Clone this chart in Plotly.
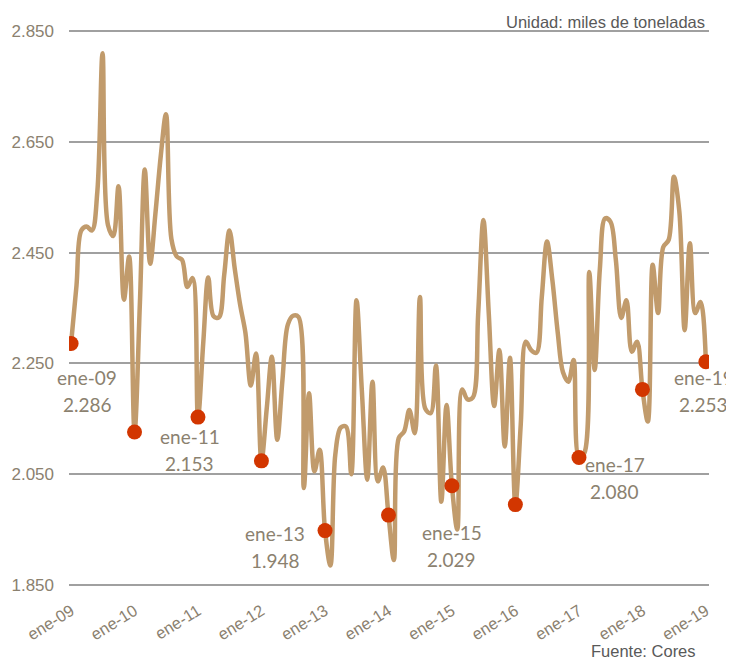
import plotly.graph_objects as go
import pandas as pd

# Monthly values (thousand tonnes), Jan 2009 .. Jan 2019
v2009 = [2286, 2390, 2490, 2497, 2490, 2560, 2810, 2500, 2480, 2570, 2365, 2443]
v2010 = [2126, 2360, 2600, 2430, 2520, 2625, 2700, 2475, 2443, 2437, 2388, 2404]
v2011 = [2153, 2290, 2405, 2335, 2333, 2410, 2490, 2420, 2355, 2305, 2210, 2268]
v2012 = [2074, 2170, 2262, 2112, 2220, 2320, 2336, 2334, 2025, 2196, 2055, 2094]
v2013 = [1948, 1885, 2085, 2134, 2136, 2050, 2364, 2200, 2040, 2217, 2037, 2062]
v2014 = [1976, 1895, 2115, 2127, 2166, 2124, 2370, 2168, 2160, 2246, 2000, 2175]
v2015 = [2029, 1950, 2203, 2185, 2188, 2340, 2509, 2340, 2173, 2274, 2100, 2260]
v2016 = [1995, 2140, 2289, 2274, 2269, 2370, 2470, 2400, 2305, 2234, 2217, 2256]
v2017 = [2080, 2088, 2415, 2238, 2420, 2512, 2506, 2437, 2332, 2364, 2271, 2289]
v2018 = [2203, 2145, 2428, 2341, 2460, 2473, 2587, 2525, 2310, 2467, 2341, 2361]
v2019 = [2253]

values = v2009 + v2010 + v2011 + v2012 + v2013 + v2014 + v2015 + v2016 + v2017 + v2018 + v2019
dates = pd.date_range("2009-01-01", periods=len(values), freq="MS")

tick_labels = ["ene-09", "ene-10", "ene-11", "ene-12", "ene-13", "ene-14",
               "ene-15", "ene-16", "ene-17", "ene-18", "ene-19"]
jan_idx = list(range(0, len(values), 12))
jan_dates = [dates[i] for i in jan_idx]
jan_values = [values[i] for i in jan_idx]

# labelled Januaries (odd years) and their label offsets (px, block centre)
labelled = [0, 2, 4, 6, 8, 10]
label_offsets = {0: (16, -48), 2: (-8, -33), 4: (-50, -16), 6: (0, -60), 8: (36, -20), 10: (-2, -29)}
line_gap = 27

line_color = "#C19B6C"
dot_color = "#D23600"
text_color = "#8B816F"
grid_color = "#A0A0A0"
sans = "Liberation Sans, Arial, sans-serif"
label_font = dict(family="Lato, Noto Sans, sans-serif", size=19, color=text_color)

fig = go.Figure()
fig.add_trace(go.Scatter(
    x=dates, y=values, mode="lines",
    line=dict(color=line_color, width=4.5, shape="spline", smoothing=1.0),
    hoverinfo="x+y", showlegend=False,
))
fig.add_trace(go.Scatter(
    x=jan_dates, y=jan_values, mode="markers",
    marker=dict(color=dot_color, size=15, line=dict(width=0)),
    showlegend=False,
))

for k in labelled:
    dx, dy = label_offsets[k]
    fig.add_annotation(
        x=jan_dates[k], y=jan_values[k], xref="x", yref="y",
        text=tick_labels[k], showarrow=False,
        xshift=dx, yshift=dy + line_gap / 2, font=label_font,
    )
    fig.add_annotation(
        x=jan_dates[k], y=jan_values[k], xref="x", yref="y",
        text=f"{jan_values[k] / 1000:.3f}", showarrow=False,
        xshift=dx, yshift=dy - line_gap / 2, font=label_font,
    )

fig.add_annotation(
    x=0.997, y=1.015, xref="paper", yref="paper", xanchor="right", yanchor="middle",
    text="Unidad: miles de toneladas", showarrow=False,
    font=dict(family=sans, size=16.5, color="#595959"),
)
fig.add_annotation(
    x=0.983, y=-0.117, xref="paper", yref="paper", xanchor="right", yanchor="middle",
    text="Fuente: Cores", showarrow=False,
    font=dict(family=sans, size=16.5, color="#595959"),
)

# page body has an 8px margin, so the figure is sized to fit the remaining window
fig.update_layout(
    width=726, height=651,
    margin=dict(l=61, r=25, t=22, b=73, autoexpand=False),
    paper_bgcolor="white", plot_bgcolor="white",
    separators=",.",
    font=dict(family=sans, size=16, color=text_color),
)
fig.update_xaxes(
    range=["2008-12-20", "2019-01-19"],
    tickvals=jan_dates, ticktext=tick_labels, tickangle=-32,
    showgrid=False, zeroline=False, showline=False, ticks="outside",
    ticklen=8, tickcolor="rgba(0,0,0,0)",
    tickfont=dict(family=sans, size=16.5, color=text_color),
    automargin=False,
)
fig.update_yaxes(
    range=[1848, 2852], tickvals=[1850, 2050, 2250, 2450, 2650, 2850],
    tickformat=",.0f",
    showgrid=True, gridcolor=grid_color, gridwidth=2,
    zeroline=False, showline=False, ticks="",
    tickfont=dict(family=sans, size=17, color=text_color),
    ticklabelstandoff=14, automargin=False,
)

fig.write_html("out.html")
